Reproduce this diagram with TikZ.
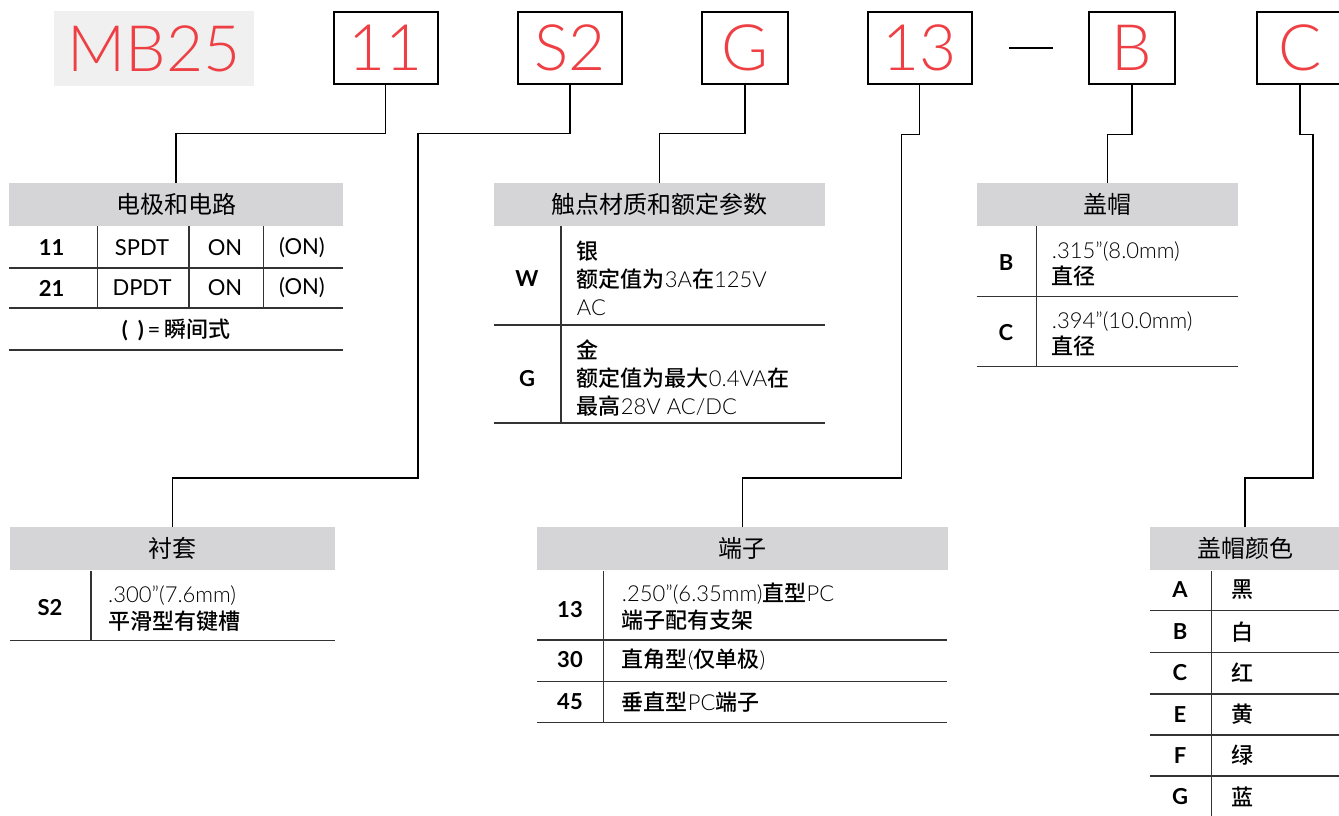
\documentclass[tikz,border=0pt]{standalone}
\usepackage{fontspec}
\setmainfont{Lato}
\newfontfamily\cjk{Noto Sans CJK SC}
\IfFontExistsTF{Noto Sans CJK SC Medium}{\newfontfamily\cjkm{Noto Sans CJK SC Medium}}{\newfontfamily\cjkm{Noto Sans CJK SC}}
\IfFontExistsTF{Lato Light}{\newfontfamily\thin{Lato Light}}{\newfontfamily\thin{Lato}}
\usepackage{xcolor}
\usetikzlibrary{positioning}
\definecolor{codered}{RGB}{238,64,68}
\definecolor{hdrgray}{RGB}{213,213,215}
\definecolor{tagbg}{RGB}{240,240,240}
\newcommand\zh[1]{{\cjkm #1}}
\newcommand\lite[1]{{\thin #1}}

\begin{document}
\begin{tikzpicture}[x=1pt, y=-1pt,
    codebox/.style={draw, line width=2pt, minimum width=104, minimum height=72.6, inner sep=0, text=codered, font=\fontsize{64}{64}\thin},
    hdr/.style={fill=hdrgray, minimum height=43.5, inner sep=0, font=\fontsize{24}{28}\cjk},
    tag/.style={inner sep=0, font=\fontsize{22}{26}\bfseries},
    mid/.style={inner sep=0, font=\fontsize{22}{26}\selectfont},
    cell/.style={anchor=west, inner sep=0, align=left, font=\fontsize{22}{28.3}\selectfont},
    rule/.style={line width=1.4pt, draw=black!80},
    wire/.style={line width=1.2pt}
]
    \useasboundingbox (0,0) rectangle (1339,816);
    \clip (0,0) rectangle (1339,816);

    % part number
    \node[fill=tagbg, minimum width=200, minimum height=75, inner sep=0, text=codered, font=\fontsize{64}{64}\thin] (model) at (154,48.5) {MB25};
    \node[codebox] (b11) at (385.8,48) {11};
    \node[codebox] (bS2) at (570,48) {S2};
    \node[codebox, minimum width=86] (bG) at (745,48) {G};
    \node[codebox] (b13) at (919.5,48) {13};
    \node[inner sep=0] (sep) at (1031,48) {\rule{44pt}{2.5pt}};
    \node[codebox, minimum width=86] (bB) at (1132,48) {B};
    \node[codebox, minimum width=86] (bC) at (1300,48) {C};

    % table headers
    \node[hdr, minimum width=334] (h1) at (176,204.5) {电极和电路};
    \node[hdr, minimum width=331] (h2) at (659.5,204.5) {触点材质和额定参数};
    \node[hdr, minimum width=261] (h3) at (1107.2,204.5) {盖帽};
    \node[hdr, minimum width=325] (h4) at (172.5,548.7) {衬套};
    \node[hdr, minimum width=411.6] (h5) at (742.5,548.7) {端子};
    \node[hdr, minimum width=190] (h6) at (1245,548.7) {盖帽颜色};

    % joints of the long leads
    \coordinate (jS2) at (418,478);
    \coordinate (j13) at (901.6,478);
    \coordinate (jC) at (1313,478);

    \draw[wire] (b11.south) -- ++(0,48) -| (h1.north);
    \draw[wire] (bS2.south) -- ++(0,48) -| (jS2) -| (h4.north);
    \draw[wire] (bG.south) -- ++(0,48) -| (h2.north);
    \draw[wire] (b13.south) -- ++(0,49) -| (j13) -| (h5.north);
    \draw[wire] (bB.south) -- ++(0,49) -| (h3.north);
    \draw[wire] (bC.south) -- ++(0,49) -| (jC) -| (h6.north);

    % poles and circuits
    \draw[rule] (9,268) -- (343,268) (9,308) -- (343,308) (9,350) -- (343,350);
    \draw[rule] (97.7,226) -- (97.7,308) (189,226) -- (189,308) (263.3,226) -- (263.3,308);
    \node[tag] (p11) at (51.7,248) {11};
    \node[mid] (p11a) at (142,248) {SPDT};
    \node[mid] (p11b) at (225,248) {ON};
    \node[mid] (p11c) at (302,248) {(ON)};
    \node[tag] (p21) at (51.7,288) {21};
    \node[mid] (p21a) at (142,288) {DPDT};
    \node[mid] (p21b) at (225,288) {ON};
    \node[mid] (p21c) at (302,288) {(ON)};
    \node[mid] (pnote) at (176,329.5) {{\bfseries(\hspace{0.45em})}\,=\,\zh{瞬间式}};

    % contacts
    \draw[rule] (494,325) -- (825,325) (494,423) -- (825,423);
    \draw[rule] (561,226) -- (561,423);
    \node[tag] (kW) at (527,279) {W};
    \node[cell] (cW) at (576.7,278.5) {\zh{银}\\\zh{额定值为}\lite{3A}\zh{在}\lite{125V}\\\lite{AC}};
    \node[tag] (kG) at (527,379) {G};
    \node[cell] (cG) at (576.7,378) {\zh{金}\\\zh{额定值为最大}\lite{0.4VA}\zh{在}\\\zh{最高}\lite{28V AC/DC}};

    % cap
    \draw[rule] (976.7,296.3) -- (1237.7,296.3) (976.7,366.5) -- (1237.7,366.5);
    \draw[rule] (1036.7,226) -- (1036.7,366.5);
    \node[tag] (kB) at (1006,263) {B};
    \node[cell, font=\fontsize{22}{26}\selectfont] (cB) at (1051.7,264) {\lite{.315”(8.0mm)}\\\zh{直径}};
    \node[tag] (kC) at (1006,333) {C};
    \node[cell, font=\fontsize{22}{26}\selectfont] (cC) at (1051.7,334) {\lite{.394”(10.0mm)}\\\zh{直径}};

    % bushing
    \draw[rule] (10,640.7) -- (335,640.7);
    \draw[rule] (91,570.7) -- (91,640.7);
    \node[tag] (kS2) at (50,608) {S2};
    \node[cell, font=\fontsize{22}{26.7}\selectfont] (cS2) at (108,608.3) {\lite{.300”(7.6mm)}\\\zh{平滑型有键槽}};

    % terminals
    \draw[rule] (537,640) -- (947,640) (537,681.7) -- (947,681.7) (537,722.3) -- (947,722.3);
    \draw[rule] (603.3,570.7) -- (603.3,722.3);
    \node[tag] (k13) at (570,610) {13};
    \node[cell, font=\fontsize{22}{26.7}\selectfont] (c13) at (621.7,606.7) {\lite{.250”(6.35mm)}\zh{直型}\lite{PC}\\\zh{端子配有支架}};
    \node[tag] (k30) at (570,660) {30};
    \node[cell] (c30) at (621.7,660) {\zh{直角型}\lite{(}\zh{仅单极}\lite{)}};
    \node[tag] (k45) at (570,701.7) {45};
    \node[cell] (c45) at (621.7,701.7) {\zh{垂直型}\lite{PC}\zh{端子}};

    % cap colours
    \draw[rule] (1150,610.7) -- (1339,610.7) (1150,652.3) -- (1339,652.3) (1150,694) -- (1339,694)
        (1150,735) -- (1339,735) (1150,776) -- (1339,776);
    \draw[rule] (1211.7,570.7) -- (1211.7,816);
    \node[tag] (kA) at (1180,590) {A};
    \node[mid] (cA) at (1242.5,590) {\zh{黑}};
    \node[tag] (kB2) at (1180,631.7) {B};
    \node[mid] (cB2) at (1242.5,631.7) {\zh{白}};
    \node[tag] (kC2) at (1180,673) {C};
    \node[mid] (cC2) at (1242.5,673) {\zh{红}};
    \node[tag] (kE) at (1180,714.5) {E};
    \node[mid] (cE) at (1242.5,714.5) {\zh{黄}};
    \node[tag] (kF) at (1180,755.5) {F};
    \node[mid] (cF) at (1242.5,755.5) {\zh{绿}};
    \node[tag] (kG2) at (1180,797) {G};
    \node[mid] (cG2) at (1242.5,797) {\zh{蓝}};
\end{tikzpicture}
\end{document}
